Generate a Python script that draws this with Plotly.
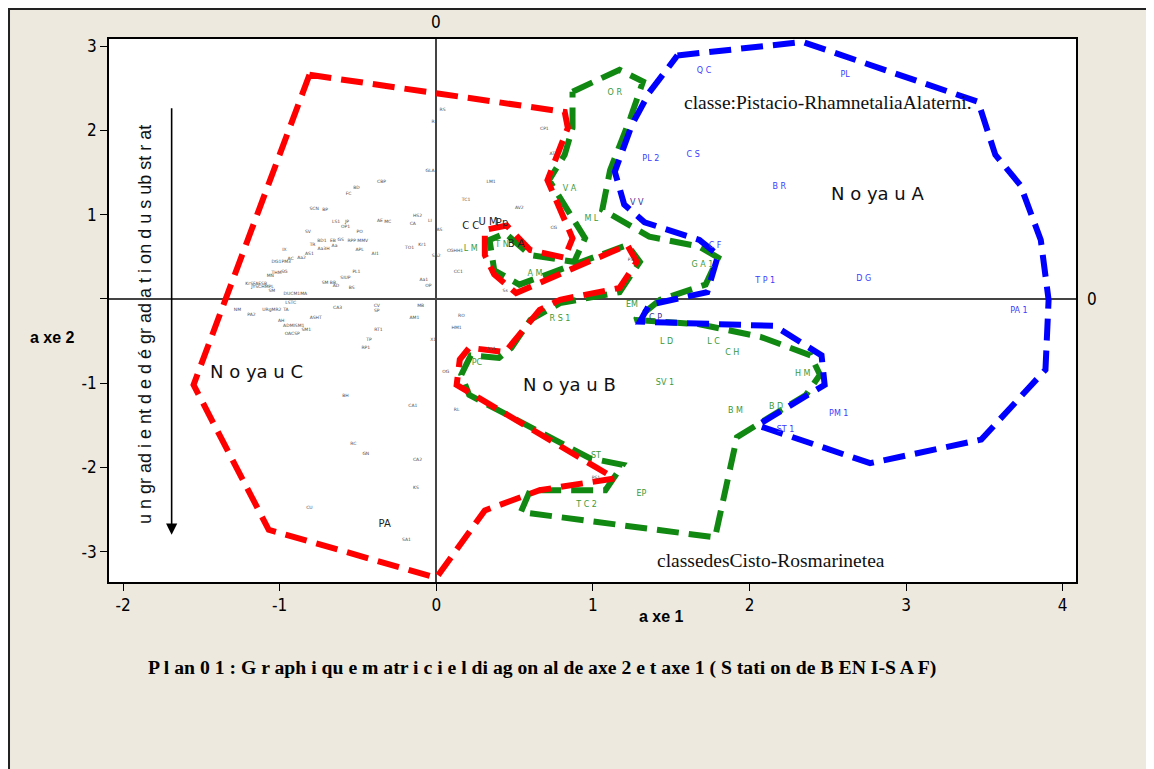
import plotly.graph_objects as go

# ---------------- data (axis 1 / axis 2 coordinates) ----------------
grey_labels = ["RS", "R", "CP1", "AT", "GLA", "LM1", "CBP", "BD", "FC", "TC1", "SCN", "BP", "AV2",
               "HS2", "LI", "LS1", "JP", "AE", "MC", "CA", "OP1", "SV", "PO", "AS", "CG", "BD1",
               "EB", "GS", "RPP", "MMV", "Kr1", "TR", "Aa", "Aa3H", "TO1", "APL", "IX", "CGHH1",
               "AS1", "AI1", "SA2", "AC", "Aa2", "P3", "DG1PM3", "CC1", "SG", "THM", "PL1", "MN",
               "SIUP", "Aa1", "SM", "BB", "KrSFAESB", "AD", "OP", "JYSCHMPL", "BS", "SM", "Ss",
               "DUCM1MA", "LSTC", "MB", "CV", "CA3", "NM", "URgMR2", "TA", "SP", "PA2", "RO",
               "AM1", "ASHT", "AH", "ADMISM1", "HM1", "SM1", "RT1", "OACSP", "TP", "X1", "RP1",
               "Aa4", "OG", "BH", "CA1", "RL", "RC", "GN", "CA2", "PS1", "KS", "CU", "SA1"]
grey_x = [0.04, -0.02, 0.69, 0.74, -0.04, 0.35, -0.35, -0.51, -0.56, 0.19, -0.78, -0.71, 0.53,
          -0.12, -0.04, -0.64, -0.57, -0.36, -0.31, -0.15, -0.58, -0.82, -0.49, 0.02, 0.75, -0.73,
          -0.66, -0.61, -0.54, -0.47, -0.09, -0.79, -0.65, -0.72, -0.17, -0.49, -0.97, 0.12,
          -0.81, -0.39, 0.00, -0.93, -0.86, 1.24, -0.99, 0.14, -0.97, -1.02, -0.51, -1.06,
          -0.58, -0.08, -0.71, -0.66, -1.15, -0.64, -0.05, -1.11, -0.54, -1.05, 0.44,
          -0.90, -0.93, -0.10, -0.38, -0.63, -1.27, -1.05, -0.96, -0.38, -1.18, 0.16,
          -0.14, -0.77, -0.99, -0.91, 0.13, -0.83, -0.37, -0.92, -0.43, -0.02, -0.45,
          0.35, 0.06, -0.58, -0.15, 0.13, -0.53, -0.45, -0.12, 1.02, -0.13, -0.81, -0.19]
grey_y = [2.24, 2.10, 2.02, 1.72, 1.52, 1.39, 1.39, 1.32, 1.25, 1.18, 1.07, 1.06, 1.08,
          0.99, 0.93, 0.91, 0.91, 0.93, 0.91, 0.89, 0.86, 0.80, 0.80, 0.82, 0.84, 0.69,
          0.69, 0.70, 0.69, 0.69, 0.64, 0.64, 0.63, 0.59, 0.61, 0.58, 0.58, 0.57,
          0.53, 0.53, 0.51, 0.48, 0.49, 0.46, 0.44, 0.32, 0.32, 0.31, 0.32, 0.27,
          0.25, 0.23, 0.19, 0.19, 0.18, 0.15, 0.15, 0.14, 0.13, 0.10, 0.10,
          0.06, -0.05, -0.08, -0.08, -0.11, -0.13, -0.13, -0.13, -0.14, -0.19, -0.20,
          -0.23, -0.23, -0.26, -0.32, -0.34, -0.37, -0.37, -0.42, -0.49, -0.49, -0.58,
          -0.59, -0.87, -1.15, -1.27, -1.32, -1.72, -1.84, -1.91, -2.13, -2.24, -2.48, -2.86]

black_labels = ["C C", "U M", "Pp", "B A", "PA"]
black_x = [0.22, 0.33, 0.42, 0.51, -0.33]
black_y = [0.86, 0.91, 0.90, 0.64, -2.68]

green_labels = ["O R", "V A", "M L", "T N", "L M", "G A 1", "A M", "EM", "R S 1", "L D", "L C",
                "C H", "PC", "H M", "SV 1", "B D", "B M", "ST", "EP", "T C 2"]
green_x = [1.14, 0.85, 0.99, 0.42, 0.22, 1.70, 0.63, 1.25, 0.79, 1.47, 1.77,
           1.89, 0.26, 2.34, 1.46, 2.17, 1.91, 1.02, 1.31, 0.96]
green_y = [2.45, 1.31, 0.95, 0.64, 0.59, 0.40, 0.29, -0.07, -0.24, -0.51, -0.51,
           -0.64, -0.76, -0.89, -1.00, -1.28, -1.33, -1.86, -2.32, -2.45]

blue_labels = ["Q C", "PL", "C S", "PL 2", "B R", "C F", "D G", "T P 1", "PA 1", "PM 1", "ST 1"]
blue_x = [1.71, 2.61, 1.64, 1.37, 2.19, 1.78, 2.73, 2.10, 3.72, 2.57, 2.23]
blue_y = [2.71, 2.66, 1.71, 1.66, 1.33, 0.63, 0.24, 0.21, -0.14, -1.37, -1.56]

navy_labels = ["V V", "C P"]
navy_x = [1.28, 1.40]
navy_y = [1.14, -0.23]

# group outlines (noyaux)
red_x = [-0.81, 0.00, 0.82, 0.84, 0.71, 0.87, 0.82, 0.60, 0.45, 0.31, 0.31, 0.37, 0.51, 1.22,
         1.28, 1.17, 0.79, 0.66, 0.53, 0.44, 0.21, 0.15, 0.13, 1.04, 1.14, 0.66, 0.31, 0.00,
         -1.07, -1.55, -0.81]
red_y = [2.66, 2.45, 2.22, 2.03, 1.41, 0.72, 0.49, 0.58, 0.87, 0.82, 0.52, 0.29, 0.07, 0.64,
         0.44, 0.13, -0.01, -0.13, -0.43, -0.63, -0.58, -0.72, -1.02, -2.03, -2.13, -2.27, -2.51,
         -3.31, -2.74, -1.02, 2.66]

green_px = [0.87, 1.17, 1.32, 1.24, 1.11, 1.06, 1.36, 1.68, 1.80, 1.72, 1.43, 1.27, 1.68, 2.07,
            2.39, 2.45, 2.36, 2.00, 1.92, 1.78, 0.54, 0.60, 1.08, 1.19, 0.98, 0.21, 0.16, 0.22,
            0.40, 0.48, 0.60, 0.79, 1.17, 1.30, 1.22, 0.53, 0.37, 0.34, 0.44, 0.60, 0.88, 0.95,
            0.72, 0.82, 0.87, 0.87]
green_py = [2.46, 2.72, 2.58, 2.15, 1.53, 1.06, 0.74, 0.62, 0.49, 0.17, -0.01, -0.25, -0.30,
            -0.45, -0.67, -0.90, -1.14, -1.56, -1.64, -2.83, -2.53, -2.27, -2.27, -1.97, -1.89,
            -1.14, -0.90, -0.67, -0.70, -0.58, -0.25, -0.05, 0.08, 0.44, 0.64, 0.17, 0.34, 0.70,
            0.78, 0.52, 0.44, 0.72, 1.41, 1.71, 2.03, 2.46]

blue_px = [1.54, 2.34, 3.46, 3.57, 3.73, 3.86, 3.91, 3.89, 3.48, 2.77, 2.05, 2.48, 2.46, 2.16,
           1.30, 1.36, 1.73, 1.80, 1.68, 1.33, 1.20, 1.14, 1.25, 1.36, 1.54]
blue_py = [2.89, 3.05, 2.34, 1.71, 1.35, 0.70, -0.01, -0.84, -1.67, -1.95, -1.50, -1.02, -0.67,
           -0.32, -0.27, -0.07, 0.08, 0.52, 0.70, 0.91, 1.12, 1.51, 2.07, 2.45, 2.89]

x_ticks = [-2, -1, 0, 1, 2, 3, 4]
x_tick_text = ["-2", "-1", "0", "1", "2", "3", "4"]
y_ticks = [-3, -2, -1, 0, 1, 2, 3]
y_tick_text = ["-3", "-2", "-1", "", "1", "2", "3"]

# ---------------- figure ----------------
fig = go.Figure()

dash = "22px,10px"
fig.add_trace(go.Scatter(x=green_px, y=green_py, mode="lines",
                         line=dict(color="#118811", width=6, dash=dash), hoverinfo="skip"))
fig.add_trace(go.Scatter(x=red_x, y=red_y, mode="lines",
                         line=dict(color="#ff0000", width=6, dash=dash), hoverinfo="skip"))
fig.add_trace(go.Scatter(x=blue_px, y=blue_py, mode="lines",
                         line=dict(color="#0000ff", width=6, dash=dash), hoverinfo="skip"))

sans = "DejaVu Sans, Verdana, sans-serif"
fig.add_trace(go.Scatter(x=grey_x, y=grey_y, text=grey_labels, mode="text",
                         textfont=dict(size=4.5, color="#4d4d4d", family=sans)))
fig.add_trace(go.Scatter(x=black_x, y=black_y, text=black_labels, mode="text",
                         textfont=dict(size=10, color="#222222", family=sans)))
fig.add_trace(go.Scatter(x=green_x, y=green_y, text=green_labels, mode="text",
                         textfont=dict(size=8, color="#3a9a3a", family=sans)))
fig.add_trace(go.Scatter(x=blue_x, y=blue_y, text=blue_labels, mode="text",
                         textfont=dict(size=8, color="#3b3bff", family=sans)))
fig.add_trace(go.Scatter(x=navy_x, y=navy_y, text=navy_labels, mode="text",
                         textfont=dict(size=8, color="#333399", family=sans)))

narrow = "Liberation Sans Narrow, DejaVu Sans Condensed, Arial Narrow, sans-serif"
serif = "Liberation Serif, Times New Roman, serif"
arial = "Liberation Sans, Arial, sans-serif"

def note(**kw):
    d = dict(showarrow=False, xanchor="center", yanchor="middle")
    d.update(kw)
    return d

annotations = [
    note(x=-1.15, y=-0.86, text="N o ya u C", font=dict(size=18, family=sans, color="#111")),
    note(x=0.85, y=-1.02, text="N o ya u B", font=dict(size=18, family=sans, color="#111")),
    note(x=2.82, y=1.25, text="N o ya u A", font=dict(size=18, family=sans, color="#111")),
    note(x=2.50, y=2.33, text="classe:Pistacio-RhamnetaliaAlaterni.",
         font=dict(size=19.5, family=serif, color="#111")),
    note(x=2.14, y=-3.10, text="classedesCisto-Rosmarinetea",
         font=dict(size=19.5, family=serif, color="#111")),
    note(x=-1.86, y=-0.31, text="u n gr ad i e nt d e d é gr ad a t i on d u s ub st r at", textangle=-90,
         font=dict(size=18, family=arial, color="#111")),
    dict(x=-1.69, y=-2.80, ax=-1.69, ay=2.28, xref="x", yref="y", axref="x", ayref="y", text="",
         showarrow=True, arrowhead=2, arrowsize=1.4, arrowwidth=1.6, arrowcolor="black"),
    note(x=0, y=1.031, xref="x", yref="paper", text="0",
         font=dict(size=17, family=narrow, color="black")),
    note(x=1.0166, y=0, xref="paper", yref="y", text="0",
         font=dict(size=17, family=narrow, color="black")),
    note(x=1.44, y=-0.063, xref="x", yref="paper", text="<b>a xe 1</b>",
         font=dict(size=16, family=arial, color="black")),
    note(x=-0.058, y=-0.46, xref="paper", yref="y", text="<b>a xe 2</b>",
         font=dict(size=16, family=arial, color="black")),
    note(x=0.448, y=-0.158, xref="paper", yref="paper",
         text="<b>P l an 0 1 : G r aph i qu e m atr i c i e l di ag on al de axe 2 e t axe 1 ( S tati on de B EN I-S A F)</b>",
         font=dict(size=19.7, family=serif, color="black")),
]

shapes = [
    dict(type="rect", xref="paper", yref="paper", x0=-0.1034, x1=1.09, y0=-0.36, y1=1.0552,
         fillcolor="#ede9df", line=dict(color="#222", width=2), layer="below"),
    dict(type="rect", xref="paper", yref="paper", x0=0, x1=1, y0=0, y1=1,
         fillcolor="white", line=dict(width=0), layer="below"),
]

fig.update_layout(
    width=1146, height=761,
    margin=dict(l=101, r=78, t=31, b=187),
    paper_bgcolor="white", plot_bgcolor="white",
    showlegend=False,
    annotations=annotations, shapes=shapes,
    xaxis=dict(range=[-2.09, 4.085], tickvals=x_ticks, ticktext=x_tick_text, ticks="outside",
               ticklen=7, tickcolor="black",
               showgrid=False, zeroline=True, zerolinecolor="#444", zerolinewidth=2,
               showline=True, mirror=True, linecolor="black", linewidth=1.5,
               tickfont=dict(size=17, family=narrow, color="black")),
    yaxis=dict(range=[-3.36, 3.085], tickvals=y_ticks, ticktext=y_tick_text, ticks="outside",
               ticklen=7, tickcolor="black",
               showgrid=False, zeroline=True, zerolinecolor="#444", zerolinewidth=2,
               showline=True, mirror=True, linecolor="black", linewidth=1.5,
               tickfont=dict(size=17, family=narrow, color="black")),
)

fig.write_html("out.html")
